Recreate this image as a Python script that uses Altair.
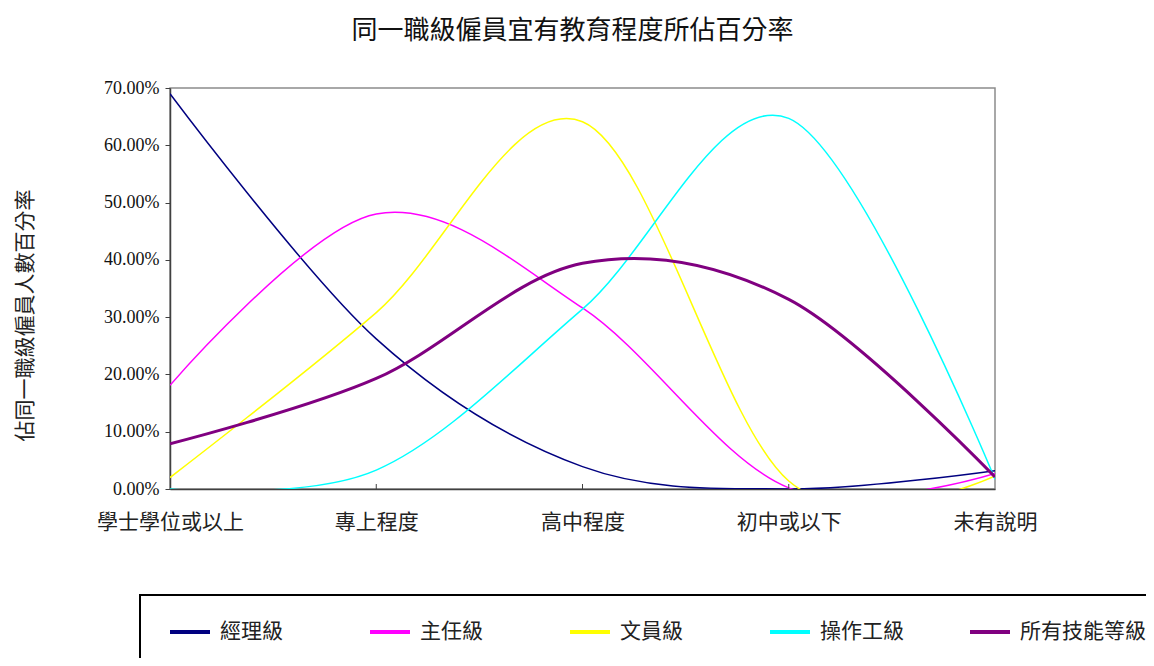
import altair as alt
import pandas as pd

categories = ["學士學位或以上", "專上程度", "高中程度", "初中或以下", "未有說明"]
series_names = ["經理級", "主任級", "文員級", "操作工級", "所有技能等級"]
series_colors = ["#000080", "#FF00FF", "#FFFF00", "#00FFFF", "#800080"]

manager = [0.690, 0.262, 0.039, 0.000, 0.032]
supervisor = [0.181, 0.480, 0.316, 0.002, 0.027]
clerk = [0.020, 0.308, 0.641, 0.014, 0.023]
operator = [0.000, 0.033, 0.314, 0.647, 0.017]
all_levels = [0.079, 0.193, 0.394, 0.331, 0.021]

values = [manager, supervisor, clerk, operator, all_levels]
rows = []
for name, vals in zip(series_names, values):
    for i, v in enumerate(vals):
        rows.append({"series": name, "idx": i, "cat": categories[i], "value": v})
df = pd.DataFrame(rows)

W, H = 825, 401
cjk = "Noto Sans CJK TC"
label_expr = "[" + ",".join("'" + c + "'" for c in categories) + "][datum.value]"

lines = alt.Chart(df).mark_line(interpolate="cardinal", tension=0, clip=True).encode(
    x=alt.X("idx:Q", scale=alt.Scale(domain=[0, 4], nice=False, zero=False),
            axis=alt.Axis(values=[0, 1, 2, 3, 4], labelExpr=label_expr, title=None,
                          ticks=False, grid=False, labelFont=cjk, labelFontSize=21,
                          labelColor="#222", labelPadding=22, labelOverlap=False,
                          labelFlush=False, domainColor="#404040", domainWidth=1.5)),
    y=alt.Y("value:Q", scale=alt.Scale(domain=[0, 0.7], nice=False),
            axis=alt.Axis(values=[0, 0.1, 0.2, 0.3, 0.4, 0.5, 0.6, 0.7], format=".2%",
                          grid=False, labelFont="Liberation Serif", labelFontSize=18,
                          labelColor="#111", tickColor="#404040", tickSize=5,
                          labelPadding=6, domainColor="#404040", domainWidth=1.5,
                          title="佔同一職級僱員人數百分率", titleFont=cjk,
                          titleFontSize=21, titleFontWeight="normal", titleColor="#222",
                          titleBaseline="middle", titleX=-145, titleY=227)),
    color=alt.Color("series:N", sort=series_names,
                    scale=alt.Scale(domain=series_names, range=series_colors),
                    legend=alt.Legend(title=" ", titleOrient="bottom", titleFontSize=20,
                                      titlePadding=10,
                                      orient="none", legendX=-30, legendY=507,
                                      direction="horizontal", columns=5, gridAlign="all",
                                      columnPadding=9, symbolType="stroke",
                                      symbolSize=1600, symbolStrokeWidth=4,
                                      symbolOffset=13,
                                      labelFont=cjk, labelFontSize=21, labelColor="#222",
                                      labelOffset=8, padding=15, strokeColor="#000",
                                      labelLimit=300)),
    strokeWidth=alt.condition(alt.datum.series == "所有技能等級", alt.value(3), alt.value(1.5)),
    order=alt.Order("idx:Q"),
)

tick_df = pd.DataFrame({"idx": [1, 2, 3]})
ticks = alt.Chart(tick_df).mark_rule(color="#404040", strokeWidth=1).encode(
    x=alt.X("idx:Q"),
    y=alt.value(H),
    y2=alt.value(H - 5),
)

chart = alt.layer(lines, ticks).properties(
    width=W, height=H,
    title=alt.TitleParams("同一職級僱員宜有教育程度所佔百分率", font=cjk, fontSize=26,
                          fontWeight="normal", color="#111", offset=35, dx=-10),
    autosize=alt.AutoSizeParams(type="none"),
    padding={"left": 162, "top": 80, "right": 151, "bottom": 169},
).configure_view(stroke="#8c8c8c", strokeWidth=1.5).configure_legend(strokeWidth=2)

chart.save("out.html", embed_options={"renderer": "svg", "actions": False})
